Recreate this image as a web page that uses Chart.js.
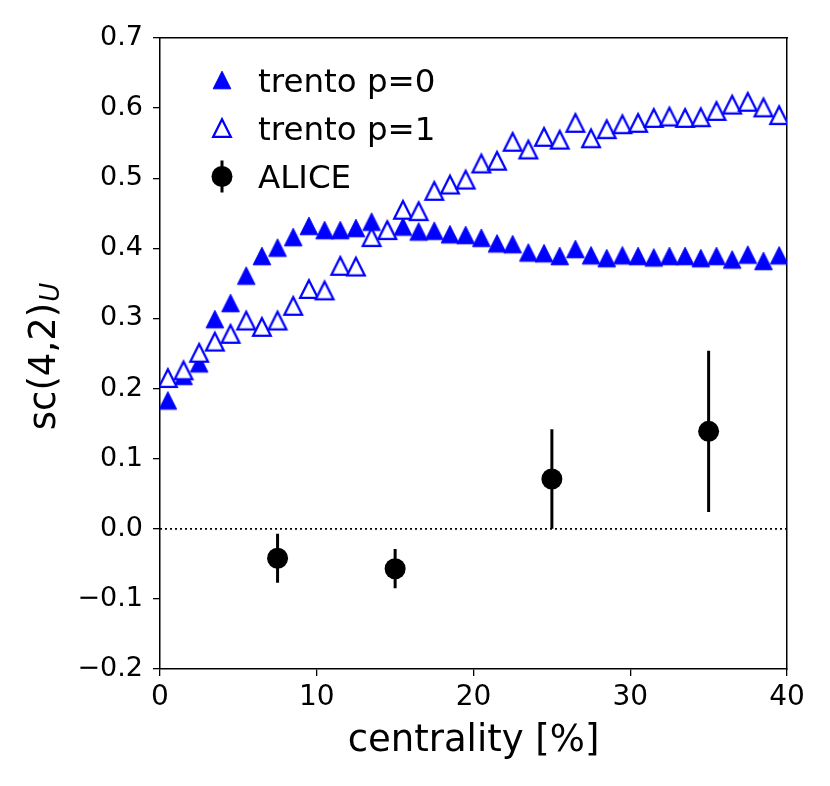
<!DOCTYPE html>
<html>
<head>
<meta charset="utf-8">
<script src="https://cdn.jsdelivr.net/npm/chart.js@4.4.1/dist/chart.umd.min.js"></script>
<style>
  html, body { margin: 0; padding: 0; background: #fff; }
  #wrap { width: 830px; height: 786px; }
</style>
</head>
<body>
<div id="wrap"><canvas id="c" width="830" height="786"></canvas></div>
<script>
// ---- data ----
const centrality = [0.5, 1.5, 2.5, 3.5, 4.5, 5.5, 6.5, 7.5, 8.5, 9.5,
  10.5, 11.5, 12.5, 13.5, 14.5, 15.5, 16.5, 17.5, 18.5, 19.5,
  20.5, 21.5, 22.5, 23.5, 24.5, 25.5, 26.5, 27.5, 28.5, 29.5,
  30.5, 31.5, 32.5, 33.5, 34.5, 35.5, 36.5, 37.5, 38.5, 39.5];
const trentoP0 = [0.183, 0.218, 0.236, 0.299, 0.322, 0.361, 0.389, 0.401, 0.416, 0.432,
  0.426, 0.426, 0.429, 0.438, 0.426, 0.431, 0.424, 0.425, 0.420, 0.419,
  0.415, 0.407, 0.406, 0.394, 0.393, 0.389, 0.399, 0.390, 0.386, 0.390,
  0.389, 0.387, 0.389, 0.389, 0.386, 0.389, 0.384, 0.391, 0.382, 0.390];
const trentoP1 = [0.215, 0.226, 0.251, 0.267, 0.278, 0.297, 0.288, 0.297, 0.318, 0.342,
  0.340, 0.375, 0.374, 0.416, 0.426, 0.455, 0.453, 0.482, 0.491, 0.498,
  0.521, 0.525, 0.552, 0.541, 0.559, 0.555, 0.579, 0.557, 0.570, 0.577,
  0.579, 0.586, 0.588, 0.586, 0.587, 0.596, 0.605, 0.609, 0.601, 0.590];
const aliceX = [7.5, 15, 25, 35];
const aliceY = [-0.042, -0.057, 0.071, 0.139];
const aliceErr = [0.035, 0.028, 0.071, 0.115];
const zeroLineX = [0, 40];
const xTickValues = [0, 10, 20, 30, 40];
const xTickLabels = ['0', '10', '20', '30', '40'];
const yTickValues = [-0.2, -0.1, 0.0, 0.1, 0.2, 0.3, 0.4, 0.5, 0.6, 0.7];
const yTickLabels = ['\u22120.2', '\u22120.1', '0.0', '0.1', '0.2', '0.3', '0.4', '0.5', '0.6', '0.7'];
const legendLabels = ['trento p=0', 'trento p=1', 'ALICE'];

// ---- marker images ----
const BLUE = '#0000ff';
function triMarker(filled) {
  const s = 24, c = s / 2, a = 8.8;
  const cv = document.createElement('canvas');
  cv.width = s; cv.height = s;
  const g = cv.getContext('2d');
  g.beginPath();
  g.moveTo(c, c - a);
  g.lineTo(c - a, c + a);
  g.lineTo(c + a, c + a);
  g.closePath();
  g.lineJoin = 'miter';
  if (filled) {
    g.fillStyle = BLUE; g.fill();
    g.strokeStyle = BLUE; g.lineWidth = 1; g.stroke();
  } else {
    g.fillStyle = '#ffffff'; g.fill();
    g.strokeStyle = BLUE; g.lineWidth = 2.3; g.stroke();
  }
  return cv;
}
const triFilled = triMarker(true);
const triOpen = triMarker(false);

const p0Data = centrality.map((x, i) => ({ x: x, y: trentoP0[i] }));
const p1Data = centrality.map((x, i) => ({ x: x, y: trentoP1[i] }));
const aliceData = aliceX.map((x, i) => ({ x: x, y: aliceY[i] }));
const errData = [];
aliceX.forEach((x, i) => {
  errData.push({ x: x, y: aliceY[i] - aliceErr[i] });
  errData.push({ x: x, y: aliceY[i] + aliceErr[i] });
  errData.push({ x: x, y: null });
});
const zeroData = zeroLineX.map(x => ({ x: x, y: 0 }));

Chart.defaults.font.family = '"DejaVu Sans", sans-serif';
Chart.defaults.color = '#000';

const overlayPlugin = {
  id: 'overlay',
  afterDraw(chart) {
    const ctx = chart.ctx;
    ctx.save();
    // y axis title with subscript
    const mainTxt = 'sc(4,2)', subTxt = 'U';
    ctx.font = '37px "DejaVu Sans"';
    const wMain = ctx.measureText(mainTxt).width;
    ctx.font = 'italic 26px "DejaVu Sans"';
    const wSub = ctx.measureText(subTxt).width;
    const total = wMain + 1 + wSub;
    const midY = (chart.chartArea.top + chart.chartArea.bottom) / 2 + 3;
    ctx.translate(55, midY + total / 2);
    ctx.rotate(-Math.PI / 2);
    ctx.fillStyle = '#000';
    ctx.textBaseline = 'alphabetic';
    ctx.textAlign = 'left';
    ctx.font = '37px "DejaVu Sans"';
    ctx.fillText(mainTxt, 0, 0);
    ctx.font = 'italic 26px "DejaVu Sans"';
    ctx.fillText(subTxt, wMain + 1, 4);
    ctx.restore();

    // legend
    ctx.save();
    const ix = 222, tx = 258;
    const rowsY = [80, 128, 176.5];
    const baseY = [92, 140, 188];
    ctx.drawImage(triFilled, ix - triFilled.width / 2, rowsY[0] - triFilled.height / 2);
    ctx.drawImage(triOpen, ix - triOpen.width / 2, rowsY[1] - triOpen.height / 2);
    ctx.strokeStyle = '#000'; ctx.lineWidth = 3;
    ctx.beginPath(); ctx.moveTo(ix, rowsY[2] - 16); ctx.lineTo(ix, rowsY[2] + 16); ctx.stroke();
    ctx.fillStyle = '#000';
    ctx.beginPath(); ctx.arc(ix, rowsY[2], 10.5, 0, Math.PI * 2); ctx.fill();
    ctx.font = '32.5px "DejaVu Sans"';
    ctx.textBaseline = 'alphabetic';
    ctx.textAlign = 'left';
    legendLabels.forEach((t, i) => ctx.fillText(t, tx, baseY[i]));
    ctx.restore();
  }
};

new Chart(document.getElementById('c'), {
  type: 'scatter',
  data: {
    datasets: [
      { type: 'line', label: 'zero', data: zeroData, borderColor: '#000', borderWidth: 1.8,
        borderDash: [2, 3], pointRadius: 0, fill: false, order: 5, clip: 0 },
      { label: legendLabels[0], data: p0Data, pointStyle: triFilled, showLine: false, order: 4, clip: 0 },
      { label: legendLabels[1], data: p1Data, pointStyle: triOpen, showLine: false, order: 3, clip: 0 },
      { type: 'line', label: 'ALICE err', data: errData, borderColor: '#000', borderWidth: 3,
        pointRadius: 0, spanGaps: false, fill: false, order: 2, clip: 0 },
      { label: legendLabels[2], data: aliceData, pointStyle: 'circle', pointRadius: 10.5,
        backgroundColor: '#000', borderColor: '#000', borderWidth: 0, showLine: false, order: 1, clip: 0 }
    ]
  },
  options: {
    responsive: false,
    animation: false,
    events: [],
    layout: { padding: { left: 0, top: 38, right: 43, bottom: 0 } },
    plugins: { legend: { display: false }, tooltip: { enabled: false }, title: { display: false } },
    scales: {
      x: {
        type: 'linear', position: 'bottom', min: 0, max: 40, offset: false,
        afterBuildTicks: s => { s.ticks = xTickValues.map(v => ({ value: v })); },
        afterFit: s => { s.height = 117; },
        ticks: { autoSkip: false, maxRotation: 0, padding: 5, color: '#000',
          font: { size: 28 }, callback: (v, i) => xTickLabels[i] },
        grid: { display: true, drawOnChartArea: false, drawTicks: true, tickLength: 7,
          color: '#000', lineWidth: 1.3, offset: false },
        border: { display: true, color: '#000', width: 1.5 },
        title: { display: true, text: 'centrality [%]', color: '#000',
          font: { size: 37 }, padding: { top: 0, bottom: 22 } }
      },
      y: {
        type: 'linear', position: 'left', min: -0.2, max: 0.7,
        afterBuildTicks: s => { s.ticks = yTickValues.map(v => ({ value: v })); },
        afterFit: s => { s.width = 160; },
        ticks: { autoSkip: false, padding: 10, color: '#000', font: { size: 27 },
          callback: (v, i) => yTickLabels[i] },
        grid: { display: true, drawOnChartArea: false, drawTicks: true, tickLength: 7,
          color: '#000', lineWidth: 1.3 },
        border: { display: true, color: '#000', width: 1.5 },
        title: { display: false }
      },
      x2: {
        type: 'linear', position: 'top', min: 0, max: 40, offset: false,
        afterFit: s => { s.height = 0; },
        ticks: { display: false }, grid: { display: false },
        border: { display: true, color: '#000', width: 1.5 }
      },
      y2: {
        type: 'linear', position: 'right', min: -0.2, max: 0.7,
        afterFit: s => { s.width = 0; },
        ticks: { display: false }, grid: { display: false },
        border: { display: true, color: '#000', width: 1.5 }
      }
    }
  },
  plugins: [overlayPlugin]
});
</script>
</body>
</html>
